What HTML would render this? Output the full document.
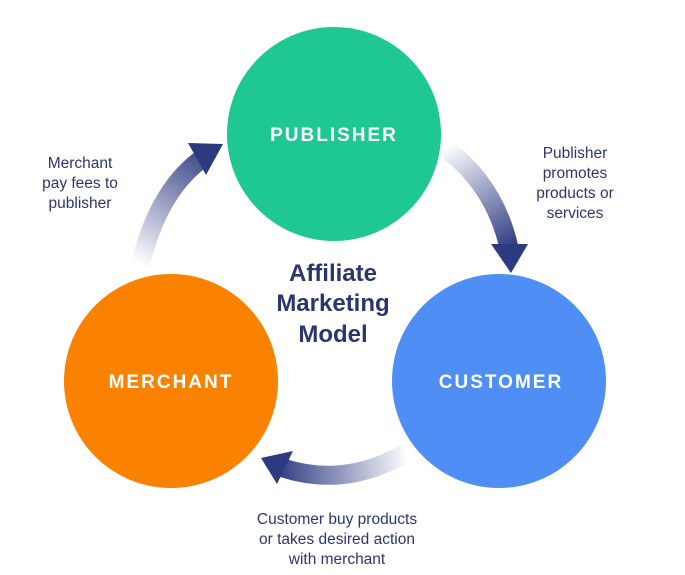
<!DOCTYPE html>
<html><head><style>
body{margin:0;background:#fff;}
svg{display:block;font-family:"Liberation Sans",sans-serif;}
</style></head><body>
<svg width="685" height="575" viewBox="0 0 685 575">
<defs>
<linearGradient id="gl" gradientUnits="userSpaceOnUse" x1="140" y1="265" x2="215" y2="150"><stop offset="0" stop-color="#2d3a80" stop-opacity="0"/><stop offset="1" stop-color="#2d3a80"/></linearGradient>
<linearGradient id="gr" gradientUnits="userSpaceOnUse" x1="445" y1="148" x2="510" y2="250"><stop offset="0" stop-color="#2d3a80" stop-opacity="0"/><stop offset="1" stop-color="#2d3a80"/></linearGradient>
<linearGradient id="gb" gradientUnits="userSpaceOnUse" x1="408" y1="455" x2="275" y2="465"><stop offset="0" stop-color="#2d3a80" stop-opacity="0"/><stop offset="1" stop-color="#2d3a80"/></linearGradient>
</defs>
<path d="M140,266 Q158,190 203,158" stroke="url(#gl)" stroke-width="19" fill="none"/>
<polygon points="188,143 223,144 206,175" fill="#2d3a80"/>
<path d="M445,148 Q495,185 509,248" stroke="url(#gr)" stroke-width="19" fill="none"/>
<polygon points="491,244 528,244 511,273" fill="#2d3a80"/>
<path d="M406,453 Q345,488 283,468" stroke="url(#gb)" stroke-width="19" fill="none"/>
<polygon points="261,458 293,451 277,484" fill="#2d3a80"/>
<circle cx="334" cy="134" r="107" fill="#1fc892"/>
<circle cx="171" cy="381" r="107" fill="#fb8200"/>
<circle cx="499" cy="381" r="107" fill="#4f8ef5"/>
<g fill="#fff" font-size="19" font-weight="bold" letter-spacing="2" text-anchor="middle">
<text x="334" y="141">PUBLISHER</text>
<text x="171" y="388">MERCHANT</text>
<text x="501" y="388">CUSTOMER</text>
</g>
<g fill="#2d3570" font-size="24" font-weight="bold" text-anchor="middle">
<text x="333" y="281">Affiliate</text>
<text x="333" y="311">Marketing</text>
<text x="333" y="342">Model</text>
</g>
<g fill="#2d3570" font-size="15.5" text-anchor="middle">
<text x="80" y="168">Merchant</text>
<text x="80" y="188">pay fees to</text>
<text x="80" y="208">publisher</text>
<text x="575" y="158">Publisher</text>
<text x="575" y="178">promotes</text>
<text x="575" y="198">products or</text>
<text x="575" y="218">services</text>
<text x="337" y="524">Customer buy products</text>
<text x="337" y="544">or takes desired action</text>
<text x="337" y="564">with merchant</text>
</g>
</svg>
</body></html>
